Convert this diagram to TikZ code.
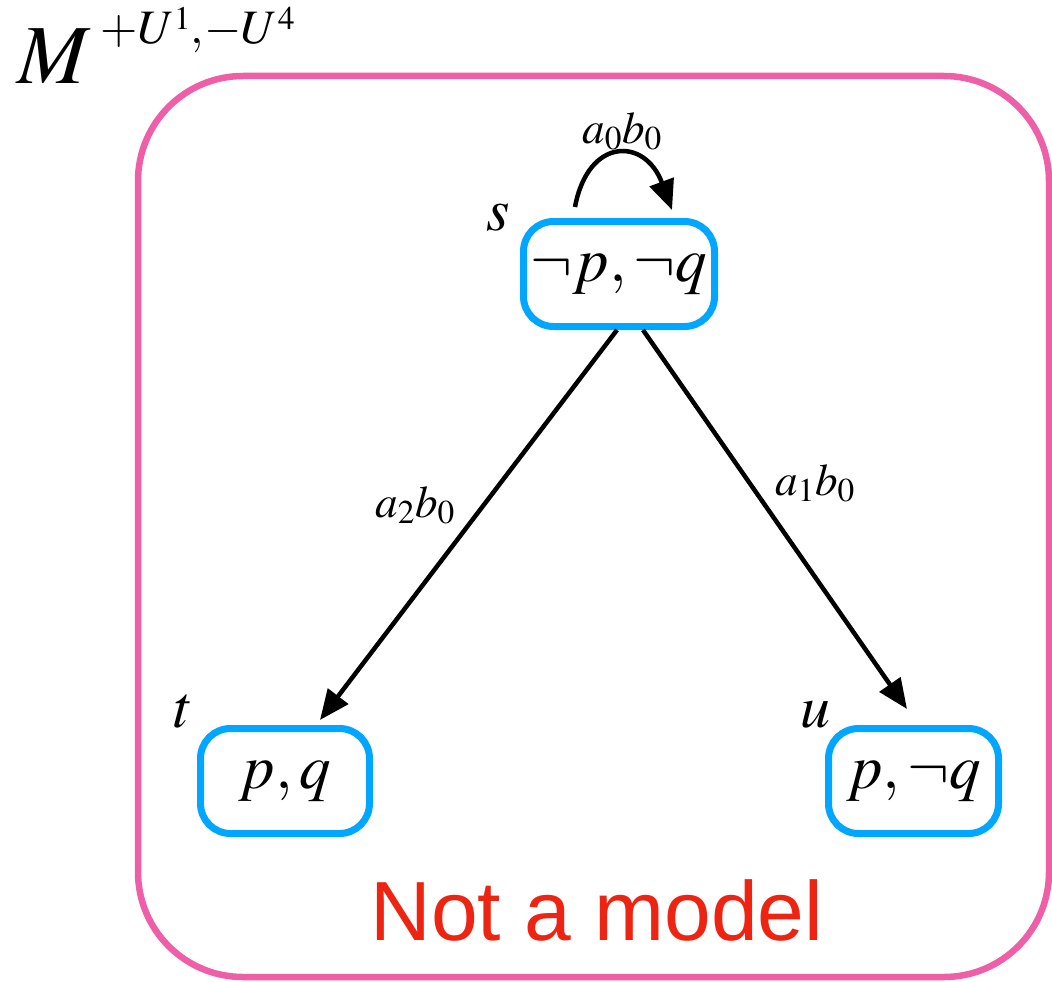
\documentclass[tikz,border=0pt]{standalone}
\usepackage{mathptmx}
\usepackage[no-math]{fontspec}
\newfontfamily\redsans{Liberation Sans}
\usetikzlibrary{arrows.meta,calc}
\definecolor{cpink}{RGB}{238,95,168}
\definecolor{cblue}{RGB}{0,166,255}
\definecolor{cred}{RGB}{238,36,18}
\newcommand{\smallsup}[1]{\raisebox{14pt}{\fontsize{33}{35}\selectfont$#1$}}
\begin{document}
\begin{tikzpicture}[x=1pt,y=-1pt,
  statebox/.style={draw=cblue, line width=7pt, rounded corners=30pt, inner sep=0pt,
    minimum height=105pt, font=\fontsize{63}{70}\selectfont},
  namelbl/.style={anchor=base, inner sep=0pt, font=\fontsize{60}{66}\selectfont},
  edgelbl/.style={anchor=base, inner sep=0pt, font=\fontsize{45}{50}\selectfont},
  arr/.style={line width=4.5pt, -{Triangle[length=30pt,width=25pt]}}]
\useasboundingbox (0,0) rectangle (1052,982);
% outer frame
\draw[cpink, line width=6.5pt, rounded corners=105pt] (138,76) rectangle (1049,977);
% title
\node[anchor=base west, inner sep=0pt, font=\fontsize{84}{88}\selectfont] (title) at (17,84) {$M$};
\node[anchor=base west, inner sep=0pt, font=\fontsize{48}{52}\selectfont] (titlesup) at (100,44)
  {$+U$\smallsup{1}$,\!-U$\smallsup{4}};
% states
\node[statebox, minimum width=191pt] (s) at (619,274) {$\neg p, \neg q$};
\node[statebox, minimum width=169pt] (t) at (285,781) {$p, q$};
\node[statebox, minimum width=170pt] (u) at (913.5,781) {$p, \neg q$};
% state names
\node[namelbl] (sl) at (498,230) {$s$};
\node[namelbl] (tl) at (184,727) {$t$};
\node[namelbl] (ul) at (815,727) {$u$};
% edges
\draw[arr] ([xshift=-44pt,yshift=11pt]s.north) .. controls (588,137) and (645,137) .. ([xshift=53pt,yshift=8pt]s.north);
\draw[arr] ([xshift=-2pt]s.south) -- ([xshift=35pt,yshift=5pt]t.north);
\draw[arr] ([xshift=24pt]s.south) -- ([xshift=-6.5pt,yshift=16pt]u.north);
% edge labels
\node[edgelbl] (l0) at (622,143) {$a_0b_0$};
\node[edgelbl] (l2) at (415,517) {$a_2b_0$};
\node[edgelbl] (l1) at (815,495) {$a_1b_0$};
% caption
\node[anchor=base, inner sep=0pt, text=cred, font=\redsans\fontsize{84}{90}\selectfont] (cap) at (597,940) {Not a model};
\end{tikzpicture}
\end{document}
